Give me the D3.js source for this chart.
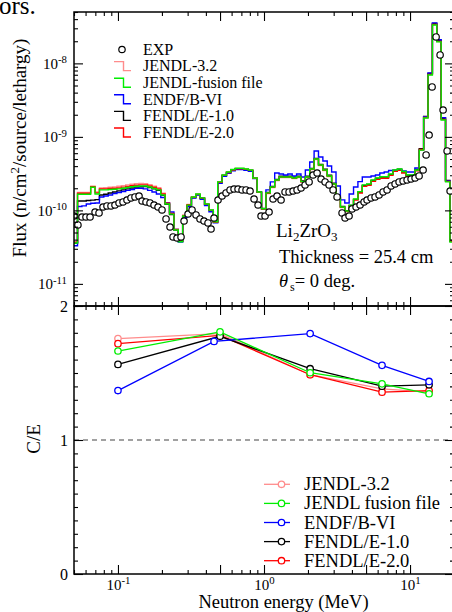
<!DOCTYPE html>
<html>
<head>
<meta charset="utf-8">
<script src="https://cdn.jsdelivr.net/npm/d3@7"></script>
<style>
html, body { margin: 0; padding: 0; background: #fff; }
svg { display: block; }
text { font-family: "Liberation Serif", "Times New Roman", Times, serif; fill: #000; }
</style>
</head>
<body>
<svg id="chart" width="452" height="612"></svg>
<script>
const SERIF = '"Liberation Serif", "Times New Roman", Times, serif';

// Energy group boundaries of the calculated spectra (MeV)
const binEdges = [
  0.04933, 0.05286, 0.05664, 0.06069, 0.06503, 0.06968, 0.07467, 0.08001, 0.08573, 0.09186,
  0.09842, 0.10546, 0.1130, 0.1211, 0.1297, 0.1390, 0.1490, 0.1596, 0.1710, 0.1833,
  0.1964, 0.2104, 0.2255, 0.2416, 0.2589, 0.2774, 0.2972, 0.3185, 0.3412, 0.3656,
  0.3918, 0.4198, 0.4498, 0.4820, 0.5165, 0.5534, 0.5930, 0.6354, 0.6808, 0.7295,
  0.7817, 0.8376, 0.8975, 0.9617, 1.0306, 1.1043, 1.1833, 1.2679, 1.3586, 1.4557,
  1.5599, 1.6714, 1.7910, 1.9191, 2.0563, 2.2034, 2.3610, 2.5298, 2.7108, 2.9046,
  3.1124, 3.3350, 3.5735, 3.8290, 4.1029, 4.3963, 4.7107, 5.0476, 5.4086, 5.7954,
  6.2099, 6.6540, 7.1299, 7.6398, 8.1862, 8.7717, 9.3990, 10.071, 10.791, 11.563,
  12.390, 13.276, 14.226, 15.243, 16.333, 17.501, 18.753, 20.094
];

// Calculated flux per group, in units of 1e-10 n/cm2/source/lethargy
const fluxJendl32 = [
  0.37, 1.76, 1.76, 1.76, 2.10, 1.78, 2.02, 2.03, 2.06, 2.09,
  2.13, 2.17, 2.22, 2.27, 2.31, 2.32, 2.31, 2.24, 2.14, 2.03,
  1.71, 1.27, 0.91, 0.55, 0.38, 0.85, 1.20, 1.53, 1.66, 1.47,
  1.21, 1.00, 0.70, 2.42, 3.00, 3.30, 3.58, 3.72, 3.72, 3.64,
  3.52, 2.74, 1.77, 1.04, 1.70, 2.04, 2.54, 2.80, 2.80, 2.80,
  2.71, 2.80, 2.42, 2.80, 3.60, 4.90, 4.08, 3.49, 2.89, 2.25,
  1.45, 1.09, 0.96, 1.16, 1.40, 1.76, 2.16, 2.22, 2.52, 2.68,
  2.79, 2.79, 3.04, 3.45, 3.56, 3.30, 2.96, 2.97, 3.50, 6.55,
  18.0, 70.5, 336, 198, 17.2, 2.50, 0.38
];
const fluxJendlFusion = [
  0.36, 1.66, 1.66, 1.66, 2.06, 1.67, 1.90, 1.90, 1.92, 1.94,
  1.96, 2.00, 2.05, 2.10, 2.13, 2.15, 2.15, 2.08, 1.99, 1.90,
  1.62, 1.22, 0.89, 0.54, 0.375, 0.84, 1.18, 1.52, 1.67, 1.48,
  1.22, 1.01, 0.70, 2.44, 3.03, 3.33, 3.60, 3.74, 3.74, 3.66,
  3.55, 2.76, 1.78, 1.05, 1.73, 2.08, 2.59, 2.85, 2.85, 2.85,
  2.76, 2.85, 2.46, 2.85, 3.66, 5.00, 4.15, 3.55, 2.94, 2.29,
  1.48, 1.11, 0.98, 1.18, 1.43, 1.80, 2.22, 2.29, 2.59, 2.76,
  2.87, 2.87, 3.13, 3.55, 3.66, 3.38, 3.03, 3.03, 3.55, 6.60,
  18.1, 69.5, 333, 196, 17.0, 2.44, 0.37
];
const fluxEndfB6 = [
  0.33, 1.13, 1.15, 1.22, 1.25, 1.26, 1.52, 1.57, 1.62, 1.70,
  1.75, 1.81, 1.87, 1.92, 1.99, 2.00, 1.96, 1.87, 1.78, 1.67,
  1.50, 1.26, 0.95, 0.55, 0.37, 0.80, 1.12, 1.47, 1.62, 1.42,
  1.16, 0.96, 0.68, 2.34, 2.91, 3.20, 3.46, 3.59, 3.59, 3.51,
  3.41, 2.70, 1.76, 1.05, 1.90, 2.44, 3.23, 3.13, 3.03, 3.13,
  2.94, 3.13, 2.85, 3.55, 4.56, 6.43, 5.33, 4.70, 4.02, 3.33,
  2.15, 1.39, 1.26, 1.67, 2.08, 2.46, 2.85, 2.85, 2.94, 3.03,
  3.23, 3.33, 3.49, 3.49, 3.55, 3.44, 3.33, 3.33, 3.78, 6.70,
  18.8, 74.0, 356, 210, 18.2, 2.52, 0.38
];
const fluxFendl1 = [
  0.36, 1.34, 1.34, 1.36, 1.38, 1.40, 1.62, 1.66, 1.72, 1.78,
  1.84, 1.90, 1.96, 2.02, 2.07, 2.10, 2.11, 2.05, 1.97, 1.88,
  1.60, 1.21, 0.88, 0.54, 0.38, 0.83, 1.16, 1.49, 1.64, 1.46,
  1.20, 1.00, 0.70, 2.40, 2.98, 3.27, 3.54, 3.68, 3.68, 3.60,
  3.49, 2.74, 1.78, 1.06, 1.76, 2.12, 2.64, 2.91, 2.91, 2.91,
  2.82, 2.91, 2.51, 2.91, 3.73, 5.10, 4.23, 3.62, 3.00, 2.34,
  1.51, 1.13, 0.99, 1.17, 1.41, 1.78, 2.19, 2.26, 2.56, 2.73,
  2.84, 2.84, 3.09, 3.51, 3.62, 3.34, 3.00, 3.00, 3.60, 6.90,
  19.0, 72.9, 350, 206, 17.9, 2.56, 0.39
];
const fluxFendl2 = [
  0.37, 1.71, 1.71, 1.71, 2.12, 1.73, 1.96, 1.96, 1.98, 2.00,
  2.02, 2.07, 2.12, 2.17, 2.20, 2.22, 2.22, 2.15, 2.06, 1.96,
  1.67, 1.25, 0.91, 0.55, 0.38, 0.85, 1.19, 1.51, 1.65, 1.47,
  1.21, 1.00, 0.69, 2.41, 2.99, 3.28, 3.55, 3.69, 3.69, 3.61,
  3.50, 2.73, 1.76, 1.04, 1.71, 2.06, 2.56, 2.82, 2.82, 2.82,
  2.73, 2.82, 2.44, 2.82, 3.62, 4.95, 4.11, 3.51, 2.91, 2.27,
  1.47, 1.10, 0.97, 1.15, 1.38, 1.72, 2.12, 2.19, 2.48, 2.64,
  2.74, 2.74, 2.99, 3.39, 3.50, 3.23, 2.90, 2.90, 3.45, 6.72,
  18.4, 70.8, 339, 199, 17.3, 2.48, 0.38
];

// Measured spectrum: energy (MeV) and flux (1e-10 n/cm2/source/lethargy)
const expEnergy = [
  0.0500, 0.0532, 0.0567, 0.0604, 0.0644, 0.0697, 0.0742, 0.0790, 0.0841, 0.0896,
  0.0954, 0.1017, 0.1083, 0.1153, 0.1228, 0.1308, 0.1394, 0.1462, 0.1556, 0.1658,
  0.1766, 0.1881, 0.2003, 0.2134, 0.2273, 0.2383, 0.2538, 0.2703, 0.2835, 0.3019,
  0.3216, 0.3425, 0.3646, 0.3884, 0.4137, 0.4338, 0.4548, 0.4844, 0.5161, 0.5496,
  0.5854, 0.6235, 0.6641, 0.7074, 0.7535, 0.8026, 0.8549, 0.9104, 0.9546, 1.0167,
  1.0829, 1.1535, 1.2286, 1.3087, 1.3940, 1.4848, 1.5816, 1.6846, 1.7944, 1.9113,
  2.0358, 2.1685, 2.3098, 2.4604, 2.6207, 2.7915, 2.9717, 3.1653, 3.4240, 3.5904,
  3.8244, 4.0096, 4.2710, 4.5494, 4.8457, 5.0793, 5.4099, 5.7627, 6.1376, 6.5377,
  6.9640, 7.4180, 7.9014, 8.4140, 8.9640, 9.5490, 10.167, 10.830, 11.535, 12.287,
  12.882, 13.506, 14.158, 15.083, 16.066, 16.846, 17.944, 18.810
];
const expFlux = [
  0.839, 0.633, 0.813, 0.813, 0.813, 0.951, 0.922, 1.112, 1.148, 1.148,
  1.184, 1.261, 1.301, 1.385, 1.475, 1.522, 1.570, 1.342, 1.301, 1.261,
  1.184, 1.112, 1.013, 0.764, 0.594, 0.435, 0.421, 0.435, 0.717, 0.893,
  1.013, 0.866, 0.764, 0.717, 0.674, 0.558, 0.788, 1.385, 1.570, 1.725,
  1.895, 1.955, 1.955, 1.895, 1.895, 1.836, 1.429, 1.184, 0.839, 0.839,
  0.951, 1.429, 1.570, 1.385, 1.780, 1.780, 1.836, 1.895, 2.017, 2.216,
  2.435, 3.031, 3.227, 2.674, 2.435, 2.216, 1.895, 1.522, 0.922, 0.788,
  0.839, 1.045, 1.112, 1.184, 1.301, 1.385, 1.475, 1.522, 1.620, 1.780,
  1.895, 2.148, 2.287, 2.435, 2.512, 2.592, 2.674, 2.759, 2.938, 3.545,
  5.673, 10.61, 47.75, 228.7, 130.1, 23.2, 6.43, 1.836
];
const FLUX_UNIT = 1e-10;

// Calculation-to-experiment ratios of the energy-integrated flux
const ceEnergy = [0.1, 0.5, 2.07, 6.43, 13.5];
const ceEnergyEndf = [0.1, 0.455, 2.07, 6.43, 13.5];
const ceJendl32 = [1.757, 1.794, 1.487, 1.382, 1.357];
const ceJendlFusion = [1.664, 1.807, 1.502, 1.419, 1.345];
const ceEndfB6 = [1.369, 1.736, 1.794, 1.557, 1.437];
const ceFendl1 = [1.564, 1.774, 1.532, 1.402, 1.412];
const ceFendl2 = [1.719, 1.781, 1.487, 1.357, 1.369];

// Axis tick labels
const energyMajorTicks = [0.1, 1, 10];
const fluxMajorTicks = [1e-11, 1e-10, 1e-9, 1e-8];
const ceMajorTicks = [0, 1, 2];

const libraries = [
  { name: "JENDL-3.2", ceName: "JENDL-3.2", color: "#ff8c8c", flux: fluxJendl32, ce: ceJendl32, ceE: ceEnergy },
  { name: "JENDL-fusion file", ceName: "JENDL fusion file", color: "#00ee00", flux: fluxJendlFusion, ce: ceJendlFusion, ceE: ceEnergy },
  { name: "ENDF/B-VI", ceName: "ENDF/B-VI", color: "#0000ff", flux: fluxEndfB6, ce: ceEndfB6, ceE: ceEnergyEndf },
  { name: "FENDL/E-1.0", ceName: "FENDL/E-1.0", color: "#000000", flux: fluxFendl1, ce: ceFendl1, ceE: ceEnergy },
  { name: "FENDL/E-2.0", ceName: "FENDL/E-2.0", color: "#ff0000", flux: fluxFendl2, ce: ceFendl2, ceE: ceEnergy }
];
// drawing order of the spectra (last on top)
const spectrumOrder = ["JENDL-3.2", "FENDL/E-1.0", "ENDF/B-VI", "FENDL/E-2.0", "JENDL-fusion file"];
const ratioOrder = ["JENDL-3.2", "FENDL/E-2.0", "FENDL/E-1.0", "ENDF/B-VI", "JENDL-fusion file"];

const svg = d3.select("#chart");
const L = 74, R = 454, T1 = 12, B1 = 306, T2 = 306, B2 = 574;

const x = d3.scaleLog().domain([0.05, 20]).range([L, R]);
const yFlux = d3.scaleLog().domain([5e-12, 5e-8]).range([B1, T1]);
const yCE = d3.scaleLinear().domain([0, 2]).range([B2, T2]);

// text fragment cut at the top of the page
svg.append("text").attr("x", -1).attr("y", 14).attr("font-size", 25)
  .attr("font-family", SERIF).text("ors.");

const defs = svg.append("defs");
defs.append("clipPath").attr("id", "clipTop").append("rect")
  .attr("x", L).attr("y", T1).attr("width", R - L).attr("height", B1 - T1);
defs.append("clipPath").attr("id", "clipBot").append("rect")
  .attr("x", L).attr("y", T2).attr("width", R - L).attr("height", B2 - T2);

// ---------- tick helpers ----------
function logMinor(lo, hi) {
  const out = [];
  for (let e = Math.floor(Math.log10(lo)) - 1; e <= Math.ceil(Math.log10(hi)); e++) {
    for (let m = 1; m <= 9; m++) {
      const v = m * Math.pow(10, e);
      if (v >= lo * 0.999 && v <= hi * 1.001) out.push(v);
    }
  }
  return out;
}
function supLabel(sel) {
  sel.selectAll(".tick text").each(function (d) {
    const t = d3.select(this);
    const e = Math.round(Math.log10(d));
    t.text("10");
    t.append("tspan").attr("dy", "-0.5em").attr("font-size", "0.72em").text(e);
  });
}
function drawAxis(gen, scale, values, size, tx, ty, opts = {}) {
  const a = gen(scale).tickValues(values).tickSize(size).tickSizeOuter(0)
    .tickPadding(opts.pad || 0).tickFormat(opts.fmt || (() => ""));
  const g = svg.append("g").attr("transform", `translate(${tx},${ty})`).call(a)
    .attr("font-family", SERIF);
  g.select(".domain").remove();
  g.selectAll(".tick line").attr("stroke", "#000").attr("stroke-width", 1.1);
  g.selectAll(".tick text").attr("font-size", opts.fs || 15).attr("font-family", SERIF).attr("fill", "#000");
  return g;
}

const xAll = logMinor(0.05, 20);
const xMajor = [0.1, 0.5, 1, 5, 10];
const xMinor = xAll.filter(v => !xMajor.some(m => Math.abs(m - v) / m < 1e-6));
const fAll = logMinor(5e-12, 5e-8);
const fMinor = fAll.filter(v => !fluxMajorTicks.some(m => Math.abs(m - v) / m < 1e-6));
const ceMinor = d3.range(1, 20).filter(i => i !== 10).map(i => i / 10);

const MAJ = 9, MIN = 4;

// ---------- top panel: spectra ----------
const histLine = d3.line().curve(d3.curveStepAfter).x(d => x(d[0])).y(d => yFlux(d[1]));
const gTop = svg.append("g").attr("clip-path", "url(#clipTop)");
spectrumOrder.forEach(name => {
  const lib = libraries.find(l => l.name === name);
  const pts = lib.flux.map((v, i) => [binEdges[i], v * FLUX_UNIT]);
  pts.push([binEdges[lib.flux.length], lib.flux[lib.flux.length - 1] * FLUX_UNIT]);
  gTop.append("path").attr("d", histLine(pts)).attr("fill", "none")
    .attr("stroke", lib.color).attr("stroke-width", 1.4);
});
gTop.selectAll("circle.exp").data(expEnergy.map((e, i) => [e, expFlux[i] * FLUX_UNIT]))
  .join("circle").attr("class", "exp")
  .attr("cx", d => x(d[0])).attr("cy", d => yFlux(d[1])).attr("r", 3.2)
  .attr("fill", "#fff").attr("stroke", "#000").attr("stroke-width", 1.2);

// top panel axes
drawAxis(d3.axisTop, x, xMinor, -MIN, 0, T1);
drawAxis(d3.axisTop, x, xMajor, -MAJ, 0, T1);
drawAxis(d3.axisBottom, x, xMinor, -MIN, 0, B1);
drawAxis(d3.axisBottom, x, xMajor, -MAJ, 0, B1);
drawAxis(d3.axisLeft, yFlux, fMinor, -MIN, L, 0);
const gyl = drawAxis(d3.axisLeft, yFlux, fluxMajorTicks, -MAJ, L, 0, { pad: 7, fmt: d => d, fs: 15 });
supLabel(gyl);
drawAxis(d3.axisRight, yFlux, fMinor, -MIN, R, 0);
drawAxis(d3.axisRight, yFlux, fluxMajorTicks, -MAJ, R, 0);

// top legend
const legTop = svg.append("g").attr("font-family", SERIF);
const lt0 = 49.5, ltStep = 16.6, ltFont = 16;
legTop.append("circle").attr("cx", 122).attr("cy", lt0).attr("r", 3.2)
  .attr("fill", "#fff").attr("stroke", "#000").attr("stroke-width", 1.2);
legTop.append("text").attr("x", 143).attr("y", lt0 + 5.3).attr("font-size", ltFont).text("EXP");
libraries.forEach((lib, i) => {
  const cy = lt0 + ltStep * (i + 1);
  legTop.append("path")
    .attr("d", `M114,${cy - 4.5}H123.5V${cy + 4.5}H131`)
    .attr("fill", "none").attr("stroke", lib.color).attr("stroke-width", 1.4);
  legTop.append("text").attr("x", 143).attr("y", cy + 5.3).attr("font-size", ltFont).text(lib.name);
});

// sample description
const ann = svg.append("g").attr("font-family", SERIF);
const t1 = ann.append("text").attr("x", 276).attr("y", 237).attr("font-size", 19);
t1.append("tspan").text("Li");
t1.append("tspan").attr("dy", 4).attr("font-size", 13).text("2");
t1.append("tspan").attr("dy", -4).text("ZrO");
t1.append("tspan").attr("dy", 4).attr("font-size", 13).text("3");
ann.append("text").attr("x", 279).attr("y", 263).attr("font-size", 18.5).text("Thickness = 25.4 cm");
const t3 = ann.append("text").attr("x", 279).attr("y", 287).attr("font-size", 18.5);
t3.append("tspan").attr("font-style", "italic").text("\u03b8");
t3.append("tspan").attr("dx", 2).attr("dy", 4).attr("font-size", 12).text("s");
t3.append("tspan").attr("dy", -4).text("= 0 deg.");

// ---------- bottom panel: C/E ----------
const gBot = svg.append("g").attr("clip-path", "url(#clipBot)");
gBot.append("line").attr("x1", L).attr("x2", R).attr("y1", yCE(1)).attr("y2", yCE(1))
  .attr("stroke", "#444").attr("stroke-width", 1.2).attr("stroke-dasharray", "5,4");
const ceLine = d3.line().x(d => x(d[0])).y(d => yCE(d[1]));
ratioOrder.forEach(name => {
  const lib = libraries.find(l => l.name === name);
  const pts = lib.ce.map((v, i) => [lib.ceE[i], v]);
  gBot.append("path").attr("d", ceLine(pts)).attr("fill", "none")
    .attr("stroke", lib.color).attr("stroke-width", 1.3);
  gBot.selectAll(null).data(pts).join("circle")
    .attr("cx", d => x(d[0])).attr("cy", d => yCE(d[1])).attr("r", 3.2)
    .attr("fill", "#fff").attr("stroke", lib.color).attr("stroke-width", 1.3);
});

// bottom panel axes
drawAxis(d3.axisTop, x, xMinor, -MIN, 0, T2);
drawAxis(d3.axisTop, x, xMajor, -MAJ, 0, T2);
drawAxis(d3.axisBottom, x, xMinor, -MIN, 0, B2);
const gxl = drawAxis(d3.axisBottom, x, xMajor, -MAJ, 0, B2, { pad: 5, fmt: d => d, fs: 15 });
gxl.selectAll(".tick").filter(d => !energyMajorTicks.includes(d)).select("text").remove();
supLabel(gxl);
drawAxis(d3.axisLeft, yCE, ceMinor, -MIN, L, 0);
drawAxis(d3.axisLeft, yCE, ceMajorTicks, -MAJ, L, 0, { pad: 6, fmt: d3.format("d"), fs: 16 });
drawAxis(d3.axisRight, yCE, ceMinor, -MIN, R, 0);
drawAxis(d3.axisRight, yCE, ceMajorTicks, -MAJ, R, 0);

// bottom legend
const legBot = svg.append("g").attr("font-family", SERIF);
const lb0 = 484.3, lbStep = 19.1;
libraries.forEach((lib, i) => {
  const cy = lb0 + lbStep * i;
  legBot.append("line").attr("x1", 264).attr("x2", 290).attr("y1", cy).attr("y2", cy)
    .attr("stroke", lib.color).attr("stroke-width", 1.3);
  legBot.append("circle").attr("cx", 281.5).attr("cy", cy).attr("r", 3.2)
    .attr("fill", "#fff").attr("stroke", lib.color).attr("stroke-width", 1.3);
  legBot.append("text").attr("x", 304).attr("y", cy + 6).attr("font-size", 18.5).text(lib.ceName);
});

// frames
[[T1, B1], [T2, B2]].forEach(([t, b]) => {
  svg.append("rect").attr("x", L).attr("y", t).attr("width", R - L).attr("height", b - t)
    .attr("fill", "none").attr("stroke", "#000").attr("stroke-width", 1.5);
});

// axis titles
svg.append("text").attr("transform", "translate(26,148) rotate(-90)")
  .attr("text-anchor", "middle").attr("font-size", 19).attr("font-family", SERIF)
  .call(t => {
    t.append("tspan").text("Flux (n/cm");
    t.append("tspan").attr("dy", -7).attr("font-size", 13).text("2");
    t.append("tspan").attr("dy", 7).text("/source/lethargy)");
  });
svg.append("text").attr("transform", "translate(40,439) rotate(-90)")
  .attr("text-anchor", "middle").attr("font-size", 19).attr("font-family", SERIF).text("C/E");
svg.append("text").attr("x", 283.5).attr("y", 607.5).attr("text-anchor", "middle")
  .attr("font-size", 18.5).attr("font-family", SERIF).text("Neutron energy (MeV)");
</script>
</body>
</html>
